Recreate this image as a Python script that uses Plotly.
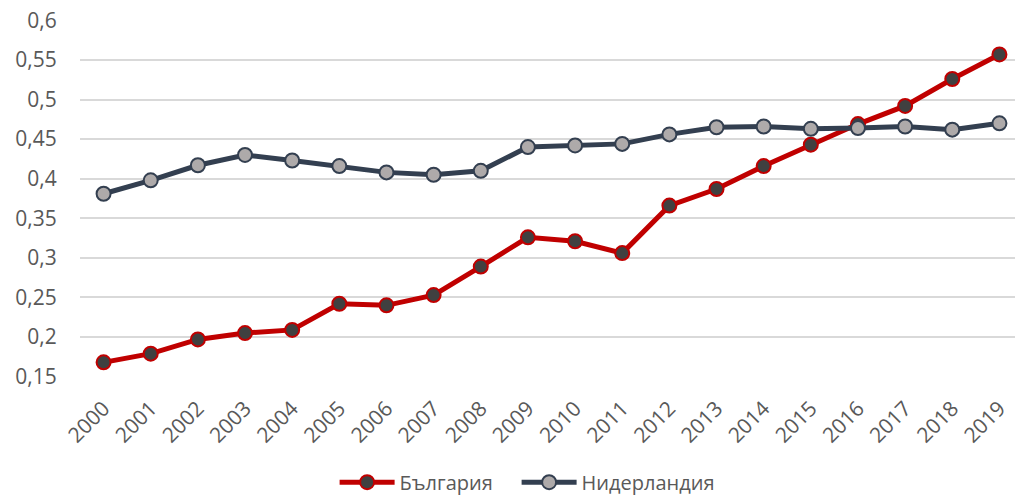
import plotly.graph_objects as go

years = [str(y) for y in range(2000, 2020)]

bulgaria = [0.168, 0.179, 0.197, 0.205, 0.209, 0.242, 0.240, 0.253, 0.289, 0.326,
            0.321, 0.306, 0.366, 0.387, 0.416, 0.443, 0.469, 0.492, 0.526, 0.557]
netherlands = [0.381, 0.398, 0.417, 0.430, 0.423, 0.416, 0.408, 0.405, 0.410, 0.440,
               0.442, 0.444, 0.456, 0.465, 0.466, 0.463, 0.464, 0.466, 0.462, 0.470]

font_family = "Open Sans, Noto Sans, DejaVu Sans, sans-serif"
text_grey = "#595959"
no_tick = "rgba(0,0,0,0)"

fig = go.Figure()

fig.add_trace(go.Scatter(
    x=years, y=bulgaria, name="България", mode="lines+markers",
    line=dict(color="#C00000", width=5),
    marker=dict(size=14, color="#404040", line=dict(color="#C00000", width=2)),
    legend="legend",
))
fig.add_trace(go.Scatter(
    x=years, y=netherlands, name="Нидерландия", mode="lines+markers",
    line=dict(color="#333F50", width=5),
    marker=dict(size=14, color="#AEAAAA", line=dict(color="#333F50", width=2)),
    legend="legend2",
))

legend_style = dict(orientation="h", y=-0.24, yanchor="top", xanchor="left",
                    font=dict(size=20, color=text_grey), itemwidth=55,
                    bgcolor="rgba(0,0,0,0)")

# page body has an 8px margin, so the figure is a bit smaller than the window
fig.update_layout(
    width=1015, height=489,
    margin=dict(l=72, r=0, t=12, b=120, autoexpand=False),
    paper_bgcolor="white", plot_bgcolor="white",
    separators=", ",
    font=dict(family=font_family, size=20, color=text_grey),
    showlegend=True,
    legend=dict(x=0.270, **legend_style),
    legend2=dict(x=0.463, **legend_style),
    xaxis=dict(type="category", range=[-0.5, 19.5], tickangle=-45,
               showgrid=False, showline=False, automargin=False,
               ticks="outside", ticklen=10, tickcolor=no_tick,
               tickfont=dict(size=21, color=text_grey)),
    yaxis=dict(range=[0.1495, 0.6005], dtick=0.05, tick0=0.15,
               showgrid=True, gridcolor="#D9D9D9", gridwidth=1.5,
               zeroline=False, showline=False, automargin=False,
               ticks="outside", ticklen=18, tickcolor=no_tick,
               ticklabeloverflow="allow",
               tickfont=dict(size=21, color=text_grey)),
)

fig.write_html("out.html")
